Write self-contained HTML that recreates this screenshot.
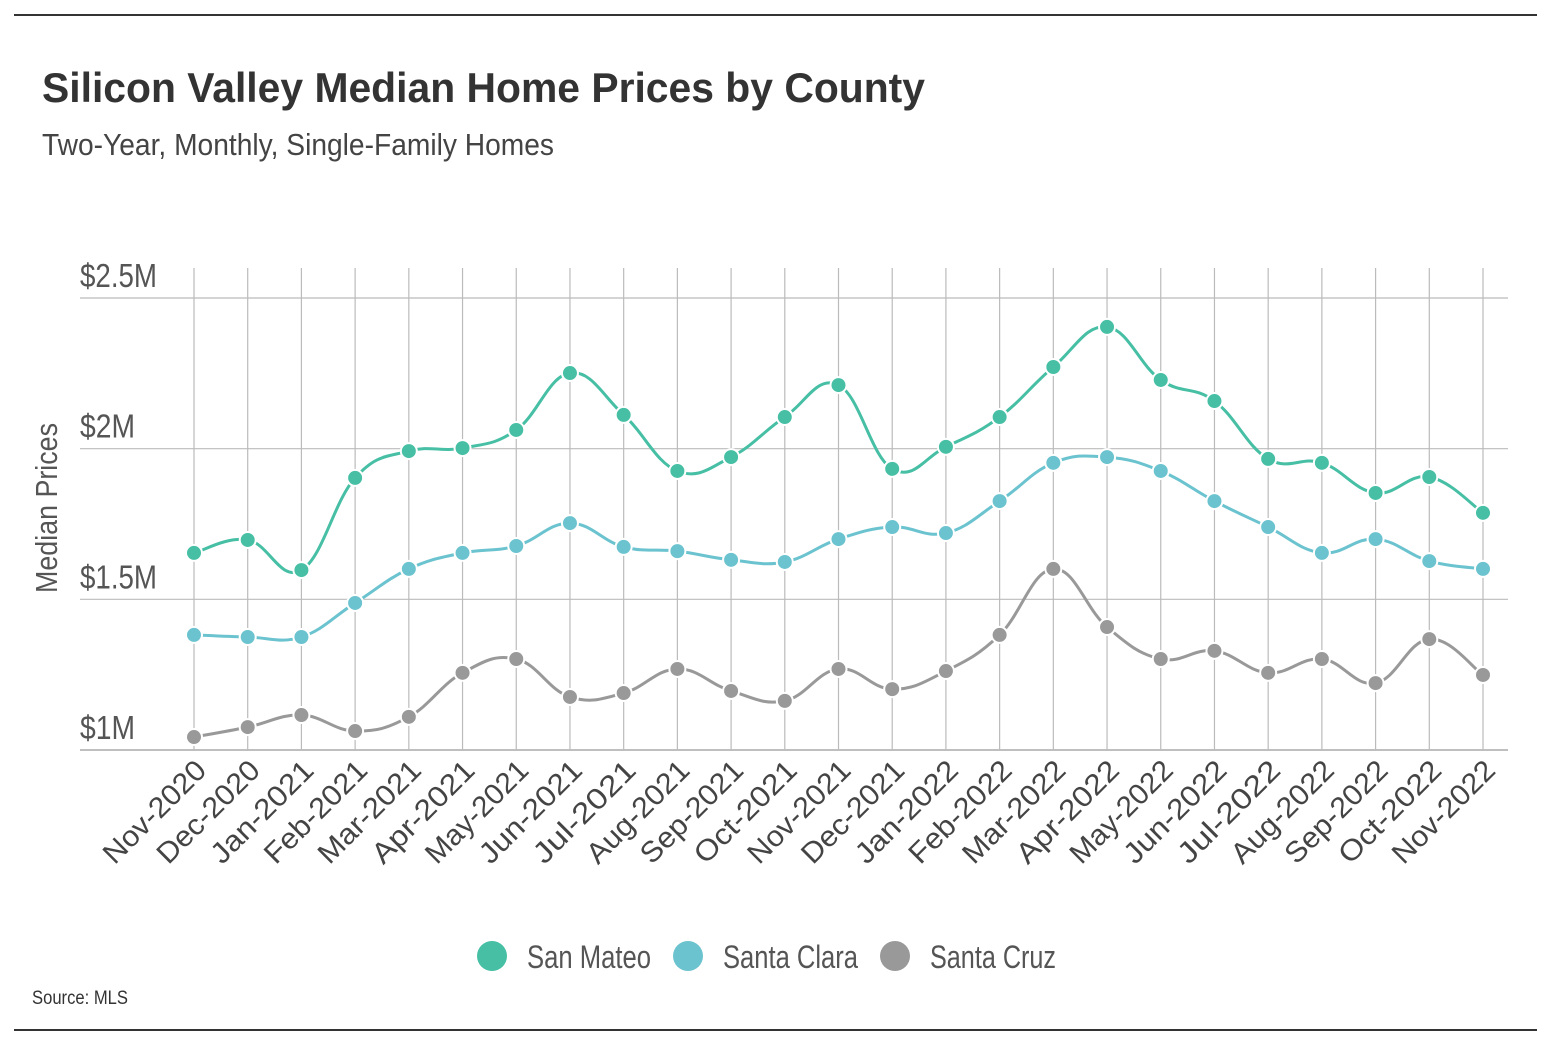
<!DOCTYPE html>
<html><head><meta charset="utf-8"><style>
body{margin:0;background:#fff;}
svg{display:block;font-family:"Liberation Sans",sans-serif;}
</style></head><body>
<svg id="chart" width="1550" height="1042" viewBox="0 0 1550 1042">
<line x1="14" y1="15" x2="1537" y2="15" stroke="#333" stroke-width="2"/>
<line x1="14" y1="1030" x2="1537" y2="1030" stroke="#333" stroke-width="2"/>
<text x="42" y="102" font-size="42" font-weight="bold" fill="#333" textLength="883" lengthAdjust="spacingAndGlyphs">Silicon Valley Median Home Prices by County</text>
<text x="42" y="155" font-size="31" fill="#444" textLength="512" lengthAdjust="spacingAndGlyphs">Two-Year, Monthly, Single-Family Homes</text>
<text transform="translate(57,508) rotate(-90)" text-anchor="middle" font-size="31" fill="#555" textLength="170" lengthAdjust="spacingAndGlyphs">Median Prices</text>
<g id="grid"></g><g id="series"></g>
<g>
<circle cx="492" cy="956" r="15" fill="#46bfa5"/>
<text x="527" y="968" font-size="32" fill="#555" textLength="124" lengthAdjust="spacingAndGlyphs">San Mateo</text>
<circle cx="688" cy="956" r="15" fill="#6bc3cf"/>
<text x="723" y="968" font-size="32" fill="#555" textLength="135" lengthAdjust="spacingAndGlyphs">Santa Clara</text>
<circle cx="895" cy="956" r="15" fill="#999"/>
<text x="930" y="968" font-size="32" fill="#555" textLength="126" lengthAdjust="spacingAndGlyphs">Santa Cruz</text>
</g>
<text x="32" y="1004" font-size="19" fill="#333" textLength="96" lengthAdjust="spacingAndGlyphs">Source:  MLS</text>
</svg>
<script>
const months=["Nov-2020","Dec-2020","Jan-2021","Feb-2021","Mar-2021","Apr-2021","May-2021","Jun-2021","Jul-2021","Aug-2021","Sep-2021","Oct-2021","Nov-2021","Dec-2021","Jan-2022","Feb-2022","Mar-2022","Apr-2022","May-2022","Jun-2022","Jul-2022","Aug-2022","Sep-2022","Oct-2022","Nov-2022"];
const sanMateo=[1.654,1.697,1.597,1.903,1.992,2.002,2.062,2.251,2.112,1.926,1.972,2.105,2.211,1.933,2.006,2.105,2.271,2.404,2.228,2.158,1.966,1.953,1.853,1.906,1.787];
const santaClara=[1.382,1.375,1.375,1.488,1.601,1.654,1.677,1.753,1.674,1.660,1.631,1.624,1.700,1.740,1.720,1.826,1.953,1.972,1.926,1.826,1.740,1.654,1.700,1.627,1.601];
const santaCruz=[1.043,1.076,1.116,1.063,1.110,1.256,1.302,1.176,1.189,1.269,1.196,1.163,1.269,1.202,1.262,1.382,1.601,1.408,1.302,1.329,1.256,1.302,1.222,1.368,1.249];
const yTicks=[1,1.5,2,2.5];
const yTickLabels=["$1M","$1.5M","$2M","$2.5M"];
const NS="http://www.w3.org/2000/svg";
const x=i=>194+i*(1483-194)/(months.length-1);
const y=v=>750-(v-1)*(750-298)/1.5;
function mk(t,a,p){const e=document.createElementNS(NS,t);for(const k in a)e.setAttribute(k,a[k]);p.appendChild(e);return e;}
const grid=document.getElementById('grid');
yTicks.forEach((t,i)=>{
 const l=mk('line',{x1:80,x2:1508,y1:y(t),y2:y(t),stroke:i==0?'#999':'#bbb','stroke-width':1.2},grid);
 
 
 const lab=yTickLabels[i];
 const tx=mk('text',{x:80,y:y(t)-11,'font-size':33,fill:'#555',textLength:lab.length>3?77:55,lengthAdjust:'spacingAndGlyphs'},grid);tx.textContent=lab;
 
 
});
months.forEach((m,i)=>{
 const l=mk('line',{x1:x(i),x2:x(i),y1:268,y2:750,stroke:'#bbb','stroke-width':1.2},grid);
 
 
 const tx=mk('text',{transform:`translate(${x(i)+14},${772}) rotate(-45)`,'text-anchor':'end','font-size':29,fill:'#444',textLength:132,lengthAdjust:'spacingAndGlyphs'},grid);tx.textContent=m;
 
 
});
const sg=document.getElementById('series');
function path(vals){const p=vals.map((v,i)=>[x(i),y(v)]);let d=`M${p[0][0]},${p[0][1]}`;const t=0.2;
 for(let i=0;i<p.length-1;i++){const p0=p[Math.max(i-1,0)],p1=p[i],p2=p[i+1],p3=p[Math.min(i+2,p.length-1)];
 d+=` C${p1[0]+(p2[0]-p0[0])*t},${p1[1]+(p2[1]-p0[1])*t} ${p2[0]-(p3[0]-p1[0])*t},${p2[1]-(p3[1]-p1[1])*t} ${p2[0]},${p2[1]}`;}return d;}
[[santaCruz,'#999','santa-cruz'],[santaClara,'#6bc3cf','santa-clara'],[sanMateo,'#46bfa5','san-mateo']].forEach(([vals,c,n])=>{
 const g=mk('g',{},sg);
 
 
 const pl=mk('path',{d:path(vals),fill:'none',stroke:c,'stroke-width':3},g);
 
 
 vals.forEach((v,i)=>{const ci=mk('circle',{cx:x(i),cy:y(v),r:8,fill:c,stroke:'#fff','stroke-width':2},g);
 
 });
});
</script>
</body></html>
